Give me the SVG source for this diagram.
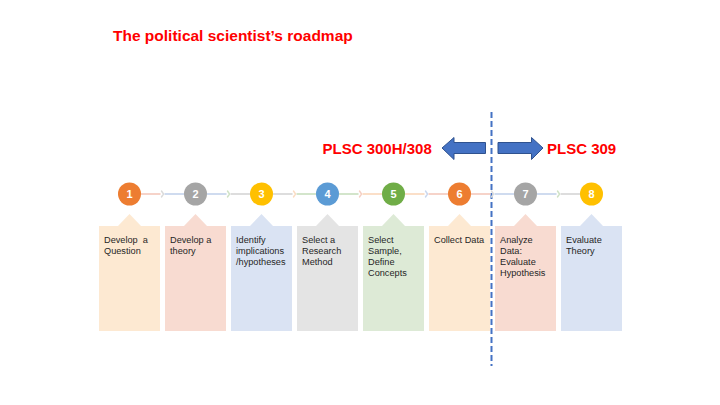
<svg xmlns="http://www.w3.org/2000/svg" width="720" height="405" viewBox="0 0 720 405">
  <style>
    .title { font-family: "Liberation Sans", Arial, sans-serif; font-weight: bold; fill: #FF0000; }
    .num { font-family: "Liberation Sans", Arial, sans-serif; font-size: 11px; font-weight: bold; fill: #FFFFFF; text-anchor: middle; }
    .lbl { font-family: "Liberation Sans", Arial, sans-serif; font-size: 9.2px; fill: #262626; white-space: pre; }
    .seg { stroke-width: 1.8; fill: none; }
    .chev { stroke-width: 1.4; fill: none; stroke-linecap: round; stroke-linejoin: round; }
    .blk { fill: #4472C4; stroke: #2F528F; stroke-width: 1; }
    .c-or { fill: #ED7D31; } .c-gr { fill: #A5A5A5; } .c-go { fill: #FFC000; } .c-bl { fill: #5B9BD5; } .c-gn { fill: #70AD47; }
    .b-or { fill: #FDE9D2; } .b-pk { fill: #F8DBD1; } .b-bl { fill: #DAE3F3; } .b-gy { fill: #E4E4E4; } .b-gn { fill: #DDEAD6; }
    .s-or { stroke: #FBDCC2; } .s-pk { stroke: #F5CFC3; } .s-bl { stroke: #CAD7EE; } .s-gy { stroke: #DADADA; } .s-gn { stroke: #CFE2C6; }
  </style>

  <!-- heading -->
  <text class="title" x="113" y="41" font-size="15.5">The political scientist’s roadmap</text>

  <!-- course split: labels, block arrows and divider -->
  <g id="course-split">
    <text class="title" x="322.5" y="154" font-size="15">PLSC 300H/308</text>
    <text class="title" x="547" y="154" font-size="15">PLSC 309</text>
    <polygon class="blk" points="485.5,142.5 454,142.5 454,137.5 442,148 454,159.5 454,153.5 485.5,153.5"/>
    <polygon class="blk" points="498,142.5 531.5,142.5 531.5,137.5 543,148 531.5,159.5 531.5,153.5 498,153.5"/>
    <line x1="491.5" y1="112" x2="491.5" y2="366" stroke="#4472C4" stroke-width="2" stroke-dasharray="6,3"/>
  </g>

  <!-- connectors between step markers -->
  <g id="connectors">
    <path class="seg s-pk" d="M141 194H160.5"/><path class="seg s-bl" d="M164.5 194H184"/><polyline class="chev s-gy" points="161.5,191 163.5,194 161.5,197"/>
    <path class="seg s-bl" d="M207 194H226.5"/><path class="seg s-gy" d="M230.5 194H250"/><polyline class="chev s-gn" points="227.5,191 229.5,194 227.5,197"/>
    <path class="seg s-gy" d="M273 194H292.5"/><path class="seg s-gn" d="M296.5 194H316"/><polyline class="chev s-or" points="293.5,191 295.5,194 293.5,197"/>
    <path class="seg s-gn" d="M339 194H358.5"/><path class="seg s-or" d="M362.5 194H382"/><polyline class="chev s-pk" points="359.5,191 361.5,194 359.5,197"/>
    <path class="seg s-or" d="M405 194H424.5"/><path class="seg s-pk" d="M428.5 194H448"/><polyline class="chev s-bl" points="425.5,191 427.5,194 425.5,197"/>
    <path class="seg s-pk" d="M471 194H490.5"/><path class="seg s-bl" d="M494.5 194H514"/><polyline class="chev s-gy" points="491.5,191 493.5,194 491.5,197"/>
    <path class="seg s-bl" d="M537 194H556.5"/><path class="seg s-gy" d="M560.5 194H580"/><polyline class="chev s-gn" points="557.5,191 559.5,194 557.5,197"/>
  </g>

  <g id="step1">
    <path class="b-or" d="M99 226H118L129.5 214L141 226H160V331H99Z"/>
    <circle class="c-or" cx="129.5" cy="194" r="11.5"/>
    <text class="num" x="129.5" y="198">1</text>
    <text class="lbl" x="104" y="242.5" xml:space="preserve">Develop  a</text>
    <text class="lbl" x="104" y="253.5">Question</text>
  </g>

  <g id="step2">
    <path class="b-pk" d="M165 226H184L195.5 214L207 226H226V331H165Z"/>
    <circle class="c-gr" cx="195.5" cy="194" r="11.5"/>
    <text class="num" x="195.5" y="198">2</text>
    <text class="lbl" x="170" y="242.5">Develop a</text>
    <text class="lbl" x="170" y="253.5">theory</text>
  </g>

  <g id="step3">
    <path class="b-bl" d="M231 226H250L261.5 214L273 226H292V331H231Z"/>
    <circle class="c-go" cx="261.5" cy="194" r="11.5"/>
    <text class="num" x="261.5" y="198">3</text>
    <text class="lbl" x="236" y="242.5">Identify</text>
    <text class="lbl" x="236" y="253.5">implications</text>
    <text class="lbl" x="236" y="264.5">/hypotheses</text>
  </g>

  <g id="step4">
    <path class="b-gy" d="M297 226H316L327.5 214L339 226H358V331H297Z"/>
    <circle class="c-bl" cx="327.5" cy="194" r="11.5"/>
    <text class="num" x="327.5" y="198">4</text>
    <text class="lbl" x="302" y="242.5">Select a</text>
    <text class="lbl" x="302" y="253.5">Research</text>
    <text class="lbl" x="302" y="264.5">Method</text>
  </g>

  <g id="step5">
    <path class="b-gn" d="M363 226H382L393.5 214L405 226H424V331H363Z"/>
    <circle class="c-gn" cx="393.5" cy="194" r="11.5"/>
    <text class="num" x="393.5" y="198">5</text>
    <text class="lbl" x="368" y="242.5">Select</text>
    <text class="lbl" x="368" y="253.5">Sample,</text>
    <text class="lbl" x="368" y="264.5">Define</text>
    <text class="lbl" x="368" y="275.5">Concepts</text>
  </g>

  <g id="step6">
    <path class="b-or" d="M429 226H448L459.5 214L471 226H490V331H429Z"/>
    <circle class="c-or" cx="459.5" cy="194" r="11.5"/>
    <text class="num" x="459.5" y="198">6</text>
    <text class="lbl" x="434" y="242.5">Collect Data</text>
  </g>

  <g id="step7">
    <path class="b-pk" d="M495 226H514L525.5 214L537 226H556V331H495Z"/>
    <circle class="c-gr" cx="525.5" cy="194" r="11.5"/>
    <text class="num" x="525.5" y="198">7</text>
    <text class="lbl" x="500" y="242.5">Analyze</text>
    <text class="lbl" x="500" y="253.5">Data:</text>
    <text class="lbl" x="500" y="264.5">Evaluate</text>
    <text class="lbl" x="500" y="275.5">Hypothesis</text>
  </g>

  <g id="step8">
    <path class="b-bl" d="M561 226H580L591.5 214L603 226H622V331H561Z"/>
    <circle class="c-go" cx="591.5" cy="194" r="11.5"/>
    <text class="num" x="591.5" y="198">8</text>
    <text class="lbl" x="566" y="242.5">Evaluate</text>
    <text class="lbl" x="566" y="253.5">Theory</text>
  </g>
</svg>
